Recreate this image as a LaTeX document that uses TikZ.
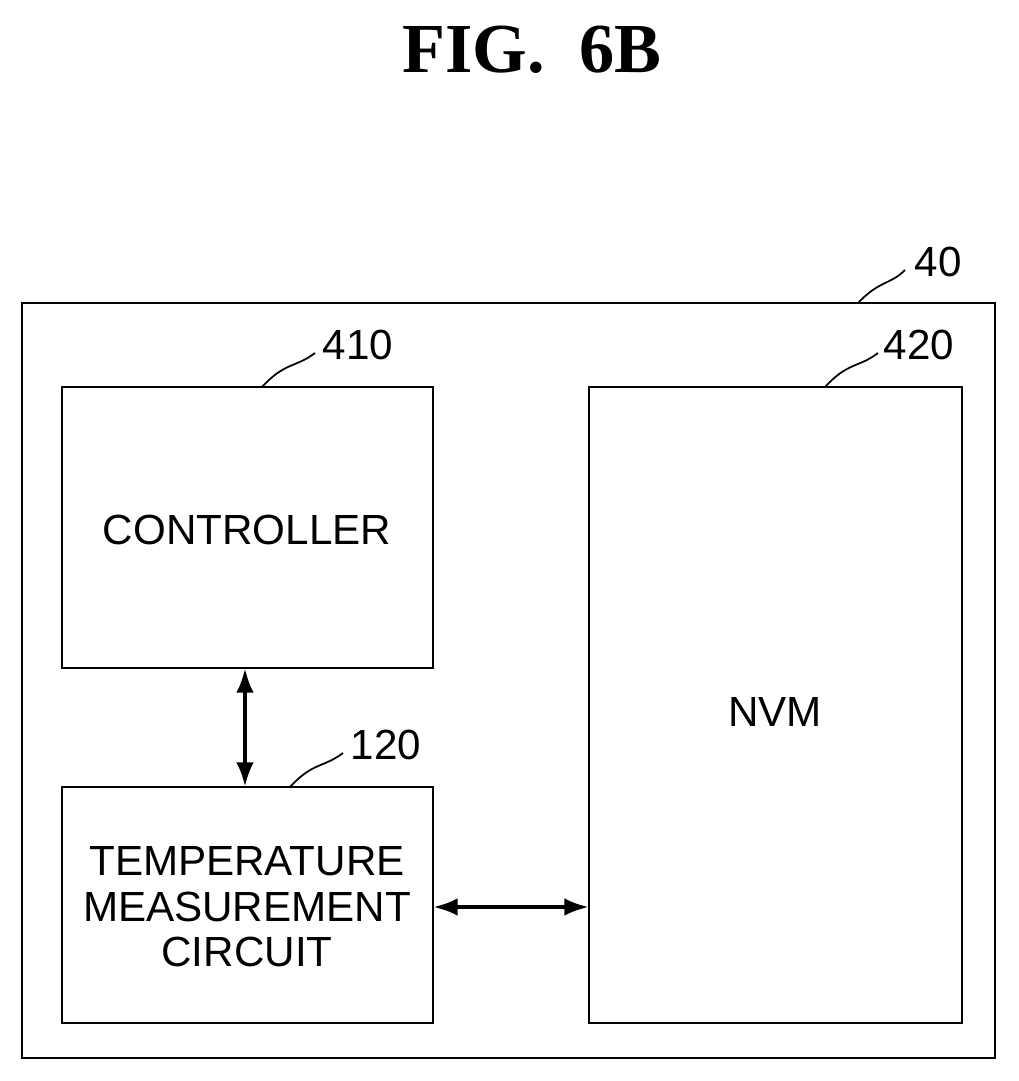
\documentclass[tikz,border=0pt]{standalone}
\usepackage{fontspec}
\setmainfont{Liberation Sans}
\newfontfamily\figfont{Liberation Serif}
\usetikzlibrary{arrows.meta}
\begin{document}
\begin{tikzpicture}[x=0.02cm,y=-0.02cm,
    box/.style={draw,line width=1.6pt},
    lbl/.style={font=\fontsize{24}{30}\selectfont,align=center},
    num/.style={font=\fontsize{24}{28}\selectfont},
    lead/.style={line width=1pt},
    link/.style={line width=2.4pt,{Latex[length=14pt,width=10pt]}-{Latex[length=14pt,width=10pt]}}]
  \useasboundingbox (0,0) rectangle (1018,1081);

  % title
  \node[font=\fontsize{40}{44}\selectfont\bfseries\figfont] (title) at (532,50) {FIG.\ \ 6B};

  % boxes
  \draw[box] (22,303) rectangle (995,1058);
  \draw[box] (62,387) rectangle (433,668);
  \draw[box] (62,787) rectangle (433,1023);
  \draw[box] (589,387) rectangle (962,1023);
  \node[lbl] (ctrl) at (247,530) {CONTROLLER};
  \node[lbl] (temp) at (247,907) {TEMPERATURE\\[-4pt]MEASUREMENT\\[-4pt]CIRCUIT};
  \node[lbl] (nvm) at (775,712) {NVM};
  \coordinate (ctrlS) at (245,668); \coordinate (tempN) at (245,787);
  \coordinate (tempE) at (433,907); \coordinate (nvmW) at (589,907);

  % connectors
  \draw[link] (ctrlS) -- (tempN);
  \draw[link] (tempE) -- (nvmW);

  % reference numerals
  \node[num] (n40) at (938,262) {40};
  \node[num] (n410) at (358,345) {410};
  \node[num] (n420) at (919,345) {420};
  \node[num] (n120) at (386,745) {120};
  \draw[lead] (858,303) .. controls (880,280) and (890,285) .. (905,270);
  \draw[lead] (262,387) .. controls (285,362) and (295,368) .. (315,353);
  \draw[lead] (825,387) .. controls (848,362) and (858,368) .. (878,353);
  \draw[lead] (290,787) .. controls (313,762) and (323,768) .. (343,753);
\end{tikzpicture}
\end{document}
